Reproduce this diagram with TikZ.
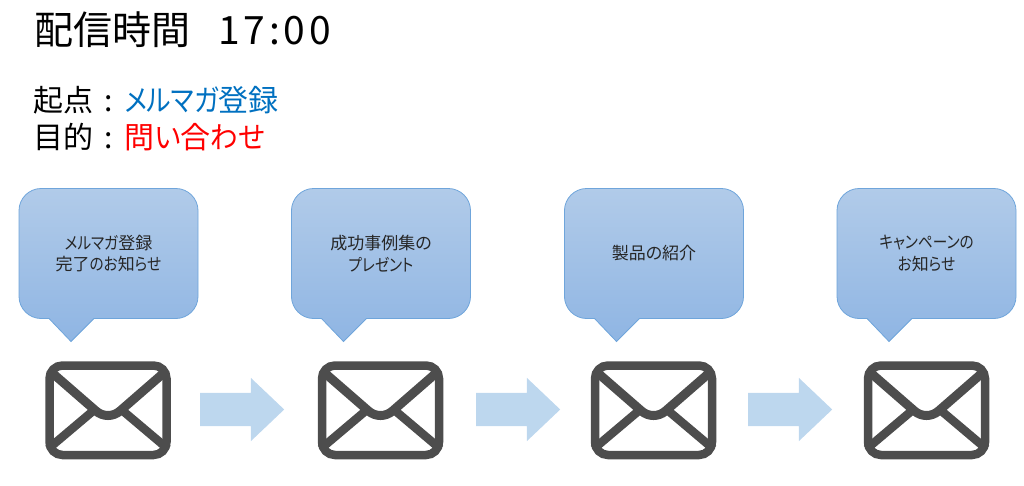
\documentclass[tikz,border=0pt]{standalone}
\usepackage{graphicx}
\usepackage{fontspec}
\setmainfont[RawFeature=+palt]{Noto Sans CJK JP}
\usetikzlibrary{shapes.arrows}
\definecolor{bubbleTop}{HTML}{B1CBE9}
\definecolor{bubbleBottom}{HTML}{8FB5E3}
\definecolor{bubbleLine}{HTML}{6FA5DB}
\definecolor{mailGray}{HTML}{4D4D4D}
\definecolor{stepArrow}{HTML}{BDD7EE}
\definecolor{startBlue}{HTML}{0070C0}
\newcommand{\kanaFit}[1]{\scalebox{0.86}[1]{#1}}
\tikzset{
	headText/.style={anchor=west, inner sep=0pt, font=\fontsize{30}{30}\selectfont},
	stepArrowShape/.style={single arrow, fill=stepArrow, inner xsep=0pt, inner ysep=16.5pt, minimum height=84pt, single arrow head extend=15pt, single arrow tip angle=87, anchor=west},
	pics/speechBubble/.style={code={
		\path[top color=bubbleTop, bottom color=bubbleBottom, draw=bubbleLine, line width=0.8pt]
			(22,0) -- (157,0) .. controls (169,0) and (179,10) .. (179,22) -- (179,108) .. controls (179,120) and (169,130) .. (157,130)
			-- (75,130) -- (52,153) -- (30,130) -- (22,130) .. controls (10,130) and (0,120) .. (0,108) -- (0,22) .. controls (0,10) and (10,0) .. (22,0) -- cycle;
		\node[align=center, inner sep=0pt, text=black!85, font=\fontsize{17}{21.5}\selectfont] (-text) at (89.5,65) {#1};
	}},
	pics/mailIcon/.style={code={
		\draw[draw=mailGray, line width=8.5pt, rounded corners=13pt] (4.5,4.5) rectangle (121.5,94);
		\draw[draw=mailGray, line width=9pt] (5,10) -- (51,50) .. controls (58,56) and (68,56) .. (75,50) -- (121,10);
		\draw[draw=mailGray, line width=8.5pt] (3,88) -- (48,50);
		\draw[draw=mailGray, line width=8.5pt] (78,50) -- (123,88);
	}}
}
\begin{document}
\begin{tikzpicture}[x=1pt, y=-1pt]
	\useasboundingbox (0,0) rectangle (1024,485);
	
	%Header lines
	\node (sendTime) at (34,30) [anchor=west, inner sep=0pt, font=\fontsize{39}{39}\selectfont]{配信時間\hspace{28pt}{\addfontfeature{LetterSpace=10}17:00}};
	\node (startLine) at (33,100) [headText]{起点\hspace{11pt}:\hspace{12pt}\textcolor{startBlue}{\kanaFit{メルマガ}登録}};
	\node (goalLine) at (33,137) [headText]{目的\hspace{11pt}:\hspace{12pt}\textcolor{red}{問\scalebox{0.92}[1]{い}合\scalebox{0.92}[1]{わせ}}};
	
	%Speech bubbles
	\pic (bubbleOne) at (19,188.5) {speechBubble={\kanaFit{メルマガ}登録\\完了\kanaFit{のお}知\kanaFit{らせ}}};
	\pic (bubbleTwo) at (291.5,188.5) {speechBubble={成功事例集の\\\kanaFit{プレゼント}}};
	\pic (bubbleThree) at (564.5,188.5) {speechBubble={製品の紹介}};
	\pic (bubbleFour) at (837,188.5) {speechBubble={\kanaFit{キャンペーンの}\\\kanaFit{お}知\kanaFit{らせ}}};
	
	%Mail icons
	\pic (mailOne) at (45,361) {mailIcon};
	\pic (mailTwo) at (317.5,361) {mailIcon};
	\pic (mailThree) at (590.5,361) {mailIcon};
	\pic (mailFour) at (863.5,361) {mailIcon};
	
	%Arrows among mails
	\node (arrowOne) at (200,409.5) [stepArrowShape]{};
	\node (arrowTwo) at (476,409.5) [stepArrowShape]{};
	\node (arrowThree) at (748,409.5) [stepArrowShape]{};
	
\end{tikzpicture}
\end{document}
